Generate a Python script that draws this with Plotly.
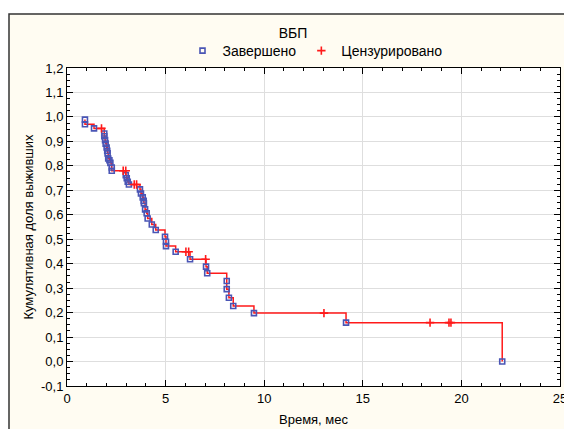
import plotly.graph_objects as go

# Event times (months) and survival after each event (Kaplan-Meier steps)
event_t = [0.91, 0.91, 1.37, 1.89, 1.89, 1.93, 1.96, 2.01, 2.04, 2.06, 2.09, 2.15, 2.20,
           2.27, 2.27, 2.98, 3.03, 3.08, 3.14, 3.70, 3.75, 3.84, 3.89, 3.90, 3.96, 4.04,
           4.09, 4.30, 4.50, 4.97, 5.02, 5.02, 5.51, 6.24, 7.05, 7.11, 8.10, 8.10, 8.21,
           8.43, 9.48, 14.15, 22.07]
event_s = [0.989, 0.970, 0.953, 0.932, 0.921, 0.905, 0.891, 0.875, 0.861, 0.851, 0.830,
           0.823, 0.812, 0.793, 0.780, 0.762, 0.749, 0.735, 0.724, 0.704, 0.687, 0.671,
           0.657, 0.647, 0.622, 0.606, 0.585, 0.560, 0.538, 0.510, 0.490, 0.472, 0.449,
           0.418, 0.388, 0.361, 0.329, 0.296, 0.261, 0.227, 0.198, 0.159, 0.0]

# Censored observations
cens_t = [1.75, 2.85, 2.98, 3.41, 3.53, 6.03, 6.17, 7.03, 13.03, 18.41, 19.37, 19.47]
cens_s = [0.953, 0.780, 0.780, 0.724, 0.724, 0.449, 0.449, 0.418, 0.198, 0.159, 0.159, 0.159]

y_tickvals = [-0.1, 0.0, 0.1, 0.2, 0.3, 0.4, 0.5, 0.6, 0.7, 0.8, 0.9, 1.0, 1.1, 1.2]
y_ticktext = ["-0,1", "0,0", "0,1", "0,2", "0,3", "0,4", "0,5", "0,6", "0,7", "0,8",
              "0,9", "1,0", "1,1", "1,2"]
x_tickvals = [0, 5, 10, 15, 20, 25]

FONT = "Liberation Sans, Arial, sans-serif"
RED = "#ff1a1a"
BLUE = "#4a55b5"
CREAM = "#fffcf2"

# page body has an 8px margin; figure sized to fit the window
W, H = 564, 421
L, R, T, B = 59, 12, 60, 43
PW, PH = W - L - R, H - T - B

fig = go.Figure()
fig.add_trace(go.Scatter(x=event_t, y=event_s, mode="lines", line_shape="hv",
                         line=dict(color=RED, width=1.5), showlegend=False, hoverinfo="skip"))
fig.add_trace(go.Scatter(x=event_t, y=event_s, mode="markers", name="Завершено",
                         marker=dict(symbol="square-open", size=5, color=BLUE,
                                     line=dict(color=BLUE, width=1.6))))
fig.add_trace(go.Scatter(x=cens_t, y=cens_s, mode="markers", name="Цензурировано",
                         marker=dict(symbol="cross-thin", size=6, color=RED,
                                     line=dict(color=RED, width=1.6))))

fig.update_layout(
    width=W, height=H,
    margin=dict(l=L, r=R, t=T, b=B, autoexpand=False),
    paper_bgcolor="white",
    plot_bgcolor="white",
    font=dict(family=FONT, size=13, color="black"),
    title=dict(text="ВБП", xref="container", yref="container", x=285 / W, xanchor="center",
               y=1 - 25 / H, yanchor="middle", font=dict(size=14, family=FONT)),
    legend=dict(orientation="h", xref="container", yref="container",
                x=307 / W, xanchor="center", y=1 - 43 / H, yanchor="middle",
                bgcolor="rgba(0,0,0,0)", font=dict(size=14, family=FONT),
                itemwidth=30, tracegroupgap=0),
    showlegend=True,
    shapes=[
        dict(type="rect", xref="paper", yref="paper", layer="below",
             x0=(1 - L) / PW, x1=1.2, y0=-0.3, y1=1 + (T - 6) / PH,
             fillcolor=CREAM, line=dict(color="#333333", width=1.5)),
        dict(type="rect", xref="x domain", yref="y domain", layer="below",
             x0=0, x1=1, y0=0, y1=1, fillcolor="white", line=dict(width=0)),
    ],
)
fig.update_xaxes(
    range=[0, 25], tickvals=x_tickvals, ticks="inside", ticklen=6, tickcolor="black",
    showline=True, linecolor="black", linewidth=1, mirror="ticks",
    showgrid=True, gridcolor="#dedede", gridwidth=1, zeroline=False, automargin=False,
    minor=dict(dtick=1, ticks="inside", ticklen=3, tickcolor="black", showgrid=False),
    title=dict(text="Время, мес", font=dict(size=13), standoff=10),
    tickfont=dict(size=13),
)
fig.update_yaxes(
    range=[-0.1, 1.2], tickvals=y_tickvals, ticktext=y_ticktext, ticks="inside", ticklen=6,
    tickcolor="black", showline=True, linecolor="black", linewidth=1, mirror="ticks",
    showgrid=True, gridcolor="#dedede", gridwidth=1, zeroline=False, automargin=False,
    minor=dict(dtick=0.025, ticks="inside", ticklen=3, tickcolor="black", showgrid=False),
    title=dict(text="Кумулятивная доля выживших", font=dict(size=13), standoff=4),
    tickfont=dict(size=13),
)

fig.write_html("out.html")
